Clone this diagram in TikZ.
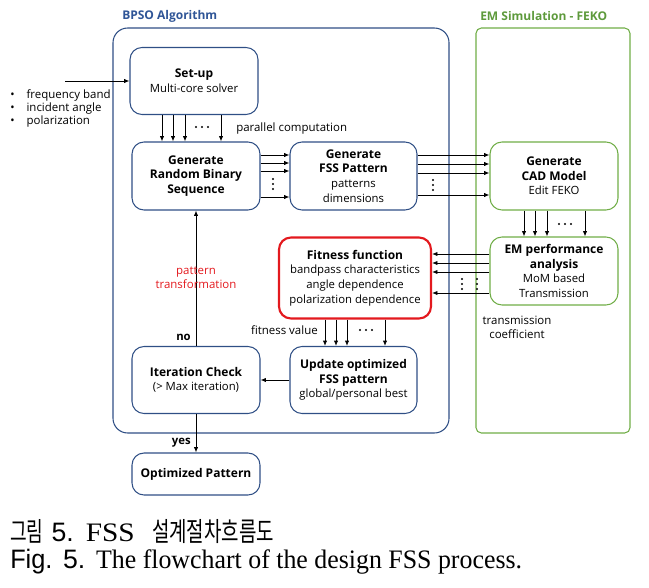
\documentclass[tikz,border=0pt]{standalone}
\usepackage{fontspec}
\setmainfont{Open Sans}
\newfontfamily\krfont{Noto Sans CJK KR}
\newfontfamily\capserif{Liberation Serif}
\newfontfamily\capsans{Liberation Sans}
\usetikzlibrary{arrows.meta}
\definecolor{bpsoblue}{HTML}{2F4F85}
\definecolor{bpsotitle}{HTML}{2F5597}
\definecolor{emgreen}{HTML}{70AD47}
\definecolor{emtitle}{HTML}{5E9A3C}
\definecolor{fitred}{HTML}{E3191E}
\newcommand\ttl[1]{{\fontsize{9}{11}\selectfont\bfseries #1}}
\tikzset{
	box/.style={draw=bpsoblue, line width=0.8pt, rounded corners=9pt, align=center, inner sep=0pt,
		minimum width=96pt, minimum height=51pt, font=\fontsize{8.5}{11}\selectfont},
	embox/.style={box, draw=emgreen},
	fitbox/.style={box, draw=fitred, line width=1.6pt, minimum width=114pt, minimum height=60.75pt},
	arr/.style={-{Latex[length=4pt,width=3.2pt]}, line width=0.6pt},
	lbl/.style={font=\fontsize{8.6}{10.5}\selectfont, inner sep=0pt}
}
\def\dotrow(#1,#2){\foreach \d in {-6,0,6} \fill ({#1+\d},#2) circle (0.8pt);}
\def\dotcol(#1,#2){\foreach \d in {-5,0,5} \fill (#1,{#2+\d}) circle (0.8pt);}

\begin{document}
\begin{tikzpicture}[x=0.75pt, y=-0.75pt]
			%%%%% START %%%%%
			\useasboundingbox (0,0) rectangle (649,588);
			
			\draw[bpsoblue, line width=0.8pt, rounded corners=11pt] (113, 28) rectangle (449, 433);
			\draw[emgreen, line width=0.8pt, rounded corners=4pt] (476, 28) rectangle (630, 433);
			\node[anchor=west, inner sep=0pt, text=bpsotitle, font=\fontsize{9}{11}\selectfont\bfseries] (bpsotxt) at (122, 16) {BPSO Algorithm};
			\node[anchor=west, inner sep=0pt, text=emtitle, font=\fontsize{9}{11}\selectfont\bfseries] (emtxt) at (480, 16) {EM Simulation - FEKO};
			
			\node[box, minimum height=50.25pt] (setup) at (194, 81) {\ttl{Set-up}\\Multi-core solver};
			\node[box] (rand) at (196, 176) {\ttl{Generate}\\\ttl{Random Binary}\\\ttl{Sequence}};
			\node[box, minimum width=95.25pt] (fss) at (353.5, 176) {\ttl{Generate}\\\ttl{FSS Pattern}\\patterns\\dimensions};
			\node[embox] (cad) at (554, 176) {\ttl{Generate}\\\ttl{CAD Model}\\Edit FEKO};
			\node[embox] (em) at (554, 271) {\ttl{EM performance}\\\ttl{analysis}\\MoM based\\Transmission};
			\node[fitbox] (fit) at (355, 278) {\ttl{Fitness function}\\bandpass characteristics\\angle dependence\\polarization dependence};
			\node[box, minimum width=95.25pt, minimum height=50.25pt] (upd) at (353.5, 380) {\ttl{Update optimized}\\\ttl{FSS pattern}\\global/personal best};
			\node[box, minimum height=50.25pt] (iter) at (196, 380) {\ttl{Iteration Check}\\(> Max iteration)};
			\node[box, minimum height=31.5pt] (opt) at (196, 474) {\ttl{Optimized Pattern}};
			
			% inputs
			\coordinate (inp) at (65, 81);
			\draw[arr] (inp) -- (setup.west);
			\node[lbl, anchor=west] (in1) at (10, 95) {\textbullet\hspace{9pt}frequency band};
			\node[lbl, anchor=west] (in2) at (10, 108.5) {\textbullet\hspace{9pt}incident angle};
			\node[lbl, anchor=west] (in3) at (10, 122) {\textbullet\hspace{9pt}polarization};
			
			% set-up -> random
			\foreach \x in {162, 173, 185, 221} \draw[arr] (setup.south -| \x,0) -- (rand.north -| \x,0);
			\dotrow(202, 127)
			\node[lbl, anchor=west] (par) at (236, 129) {parallel computation};
			
			% random -> fss
			\foreach \y in {155, 163, 171, 197} \draw[arr] (rand.east |- 0,\y) -- (fss.west |- 0,\y);
			\dotcol(273, 184)
			
			% fss -> cad
			\foreach \y in {155, 164, 173, 195} \draw[arr] (fss.east |- 0,\y) -- (cad.west |- 0,\y);
			\dotcol(433, 185)
			
			% cad -> em
			\foreach \x in {524, 535, 547, 585} \draw[arr] (cad.south -| \x,0) -- (em.north -| \x,0);
			\dotrow(565, 224)
			
			% em -> fitness
			\foreach \y in {254, 263, 272, 293} \draw[arr] (em.west |- 0,\y) -- (fit.east |- 0,\y);
			\dotcol(462, 284)
			\dotcol(477, 284)
			\node[lbl, align=center] (trans) at (517, 327) {transmission\\coefficient};
			
			% fitness -> update
			\foreach \x in {325, 336, 347, 385} \draw[arr] (fit.south -| \x,0) -- (upd.north -| \x,0);
			\dotrow(366, 330)
			\node[lbl, anchor=east] (fval) at (318, 330) {fitness value};
			
			% loop
			\draw[arr] (upd.west) -- (iter.east);
			\draw[arr] (iter.north) -- (rand.south);
			\node[lbl, text=fitred, align=center] (ptrans) at (196, 277.5) {pattern\\transformation};
			\node[lbl, anchor=east, font=\fontsize{8.5}{10}\selectfont\bfseries] (no) at (191, 337) {no};
			\draw[arr] (iter.south) -- (opt.north);
			\node[lbl, anchor=east, font=\fontsize{8.5}{10}\selectfont\bfseries] (yes) at (191, 443) {yes};
			
			% caption
			\node[anchor=base west, inner sep=0pt, font=\fontsize{20}{24}\selectfont] (cap1) at (10, 541)
				{\krfont\scalebox{0.68}[1]{그림}\hspace{6pt}\capsans 5.\hspace{9pt}\capserif\scalebox{1.1}[1]{FSS}\hspace{13pt}\krfont\scalebox{0.71}[1]{설계절차흐름도}};
			\node[anchor=base west, inner sep=0pt, font=\fontsize{20}{24}\selectfont] (cap2) at (10, 568)
				{\capsans\scalebox{0.95}[1]{Fig.}\hspace{8pt}5.\hspace{8pt}\capserif\scalebox{0.97}[1]{The flowchart of the design FSS process.}};
			
			%%%%% END %%%%%
\end{tikzpicture}
\end{document}
